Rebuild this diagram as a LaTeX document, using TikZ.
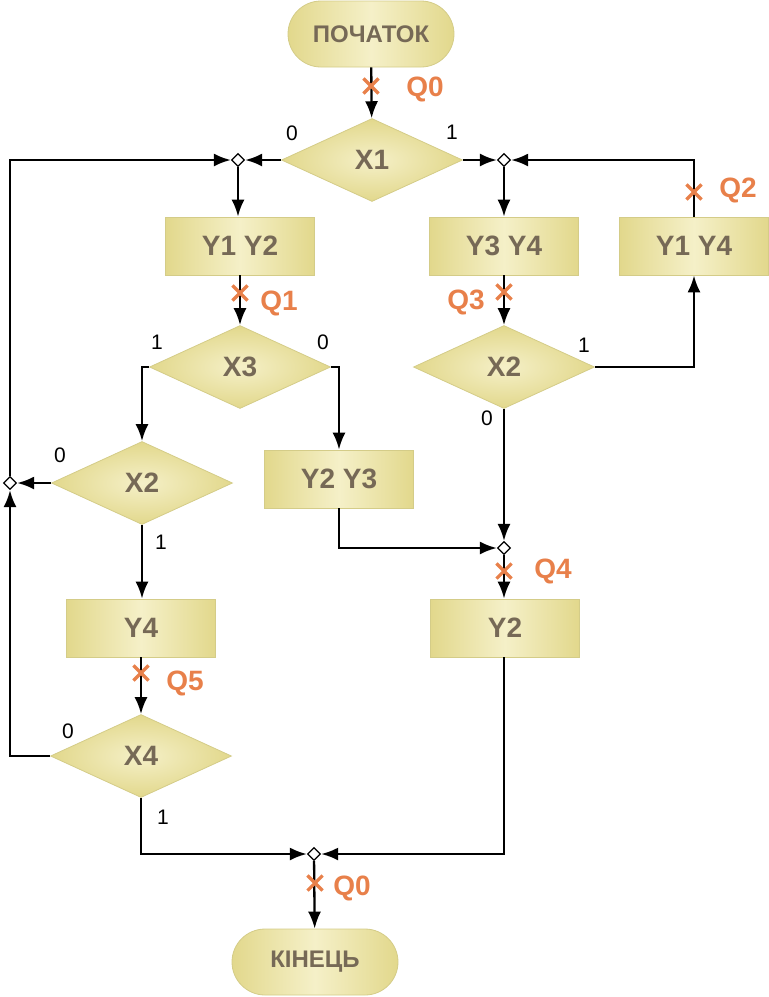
\documentclass[tikz,border=0pt]{standalone}
\usepackage{fontspec}
\setmainfont{Liberation Sans}
\usetikzlibrary{shapes.geometric,shapes.misc,arrows.meta}
\definecolor{fillout}{RGB}{226,216,140}
\definecolor{fillin}{RGB}{245,240,200}
\definecolor{edgec}{RGB}{212,204,136}
\definecolor{txt}{RGB}{118,105,86}
\definecolor{qorange}{RGB}{232,128,74}
\begin{document}
\begin{tikzpicture}[x=1pt,y=-1pt,
 base/.style={draw=edgec, line width=0.8pt, text=txt, font=\fontsize{28}{32}\selectfont\bfseries, inner sep=0pt},
 opbox/.style={base, rectangle, minimum width=149pt, minimum height=58pt, left color=fillout, right color=fillout, middle color=fillin},
 cond/.style={base, diamond, minimum width=181pt, minimum height=83pt, inner color=fillin, outer color=fillout},
 term/.style={base, rounded rectangle, minimum width=166pt, minimum height=66pt, left color=fillout, right color=fillout, middle color=fillin, font=\fontsize{24}{28}\selectfont\bfseries},
 jn/.style={diamond, draw=black, fill=white, line width=1.3pt, minimum size=13pt, inner sep=0pt},
 conn/.style={line width=2.3pt, -{Latex[length=17pt,width=13pt]}},
 qx/.style={cross out, draw=qorange, line width=3.2pt, minimum size=12pt, inner sep=0pt},
 ql/.style={text=qorange, font=\fontsize{28}{32}\selectfont\bfseries, inner sep=0pt},
 bit/.style={font=\fontsize{21}{24}\selectfont, inner sep=0pt}]
\useasboundingbox (0,0) rectangle (769,997);

% blocks
\node[term] (start) at (371,34) {ПОЧАТОК};
\node[cond] (X1) at (372,160) {X1};
\node[opbox] (Y12) at (240,246) {Y1 Y2};
\node[opbox] (Y34) at (504,246) {Y3 Y4};
\node[opbox] (Y14) at (694,246) {Y1 Y4};
\node[cond] (X3) at (240,367) {X3};
\node[cond] (X2R) at (504,367) {X2};
\node[cond] (X2L) at (142,483) {X2};
\node[opbox] (Y23) at (339,479) {Y2 Y3};
\node[opbox] (Y2) at (505,628) {Y2};
\node[opbox] (Y4) at (141,628) {Y4};
\node[cond] (X4) at (141,756) {X4};
\node[term] (end) at (315,962) {КІНЕЦЬ};

% junctions
\node[jn] (jL) at (238,160) {};
\node[jn] (jR) at (504,160) {};
\node[jn] (jLoop) at (10,483) {};
\node[jn] (jQ4) at (504,548) {};
\node[jn] (jEnd) at (314,854) {};

% connectors
\draw[conn] (start) -- (X1);
\draw[conn] (X1.west) -- (jL);
\draw[conn] (X1.east) -- (jR);
\draw[conn] (jL) -- (jL |- Y12.north);
\draw[conn] (Y12) -- (X3);
\draw[conn] (X3.west) -| (X2L.north);
\draw[conn] (X3.east) -| (Y23.north);
\draw[conn] (X2L.west) -- (jLoop);
\draw[conn] (X4.west) -| (jLoop);
\draw[conn] (jLoop) |- (jL);
\draw[conn] (X2L.south) -- (X2L.south |- Y4.north);
\draw[conn] (Y4) -- (X4);
\draw[conn] (X4.south) |- (jEnd);
\draw[conn] (Y2.south -| jQ4) |- (jEnd);
\draw[conn] (jEnd) -- (end);
\draw[conn] (jR) -- (Y34);
\draw[conn] (Y34) -- (X2R);
\draw[conn] (X2R.east) -| (Y14.south);
\draw[conn] (Y14.north) |- (jR);
\draw[conn] (X2R.south) -- (jQ4);
\draw[conn] (Y23.south) |- (jQ4);
\draw[conn] (jQ4) -- (jQ4 |- Y2.north);

% state marks
\node[qx] (q0ax) at (371,86) {};
\node[ql] (q0a) at (425,89) {Q0};
\node[qx] (q1x) at (240,293) {};
\node[ql] (q1) at (279,303) {Q1};
\node[qx] (q2x) at (694,192) {};
\node[ql] (q2) at (738,190) {Q2};
\node[qx] (q3x) at (504,292) {};
\node[ql] (q3) at (466,302) {Q3};
\node[qx] (q4x) at (504,571) {};
\node[ql] (q4) at (553,571) {Q4};
\node[qx] (q5x) at (141,673) {};
\node[ql] (q5) at (185,683) {Q5};
\node[qx] (q0bx) at (315,883) {};
\node[ql] (q0b) at (352,888) {Q0};

% branch labels
\node[bit] (b1) at (292,133) {0};
\node[bit] (b2) at (452,132) {1};
\node[bit] (b3) at (157,342) {1};
\node[bit] (b4) at (323,342) {0};
\node[bit] (b5) at (584,345) {1};
\node[bit] (b6) at (487,418) {0};
\node[bit] (b7) at (60,455) {0};
\node[bit] (b8) at (161,542) {1};
\node[bit] (b9) at (68,731) {0};
\node[bit] (b10) at (163,817) {1};
\end{tikzpicture}
\end{document}
